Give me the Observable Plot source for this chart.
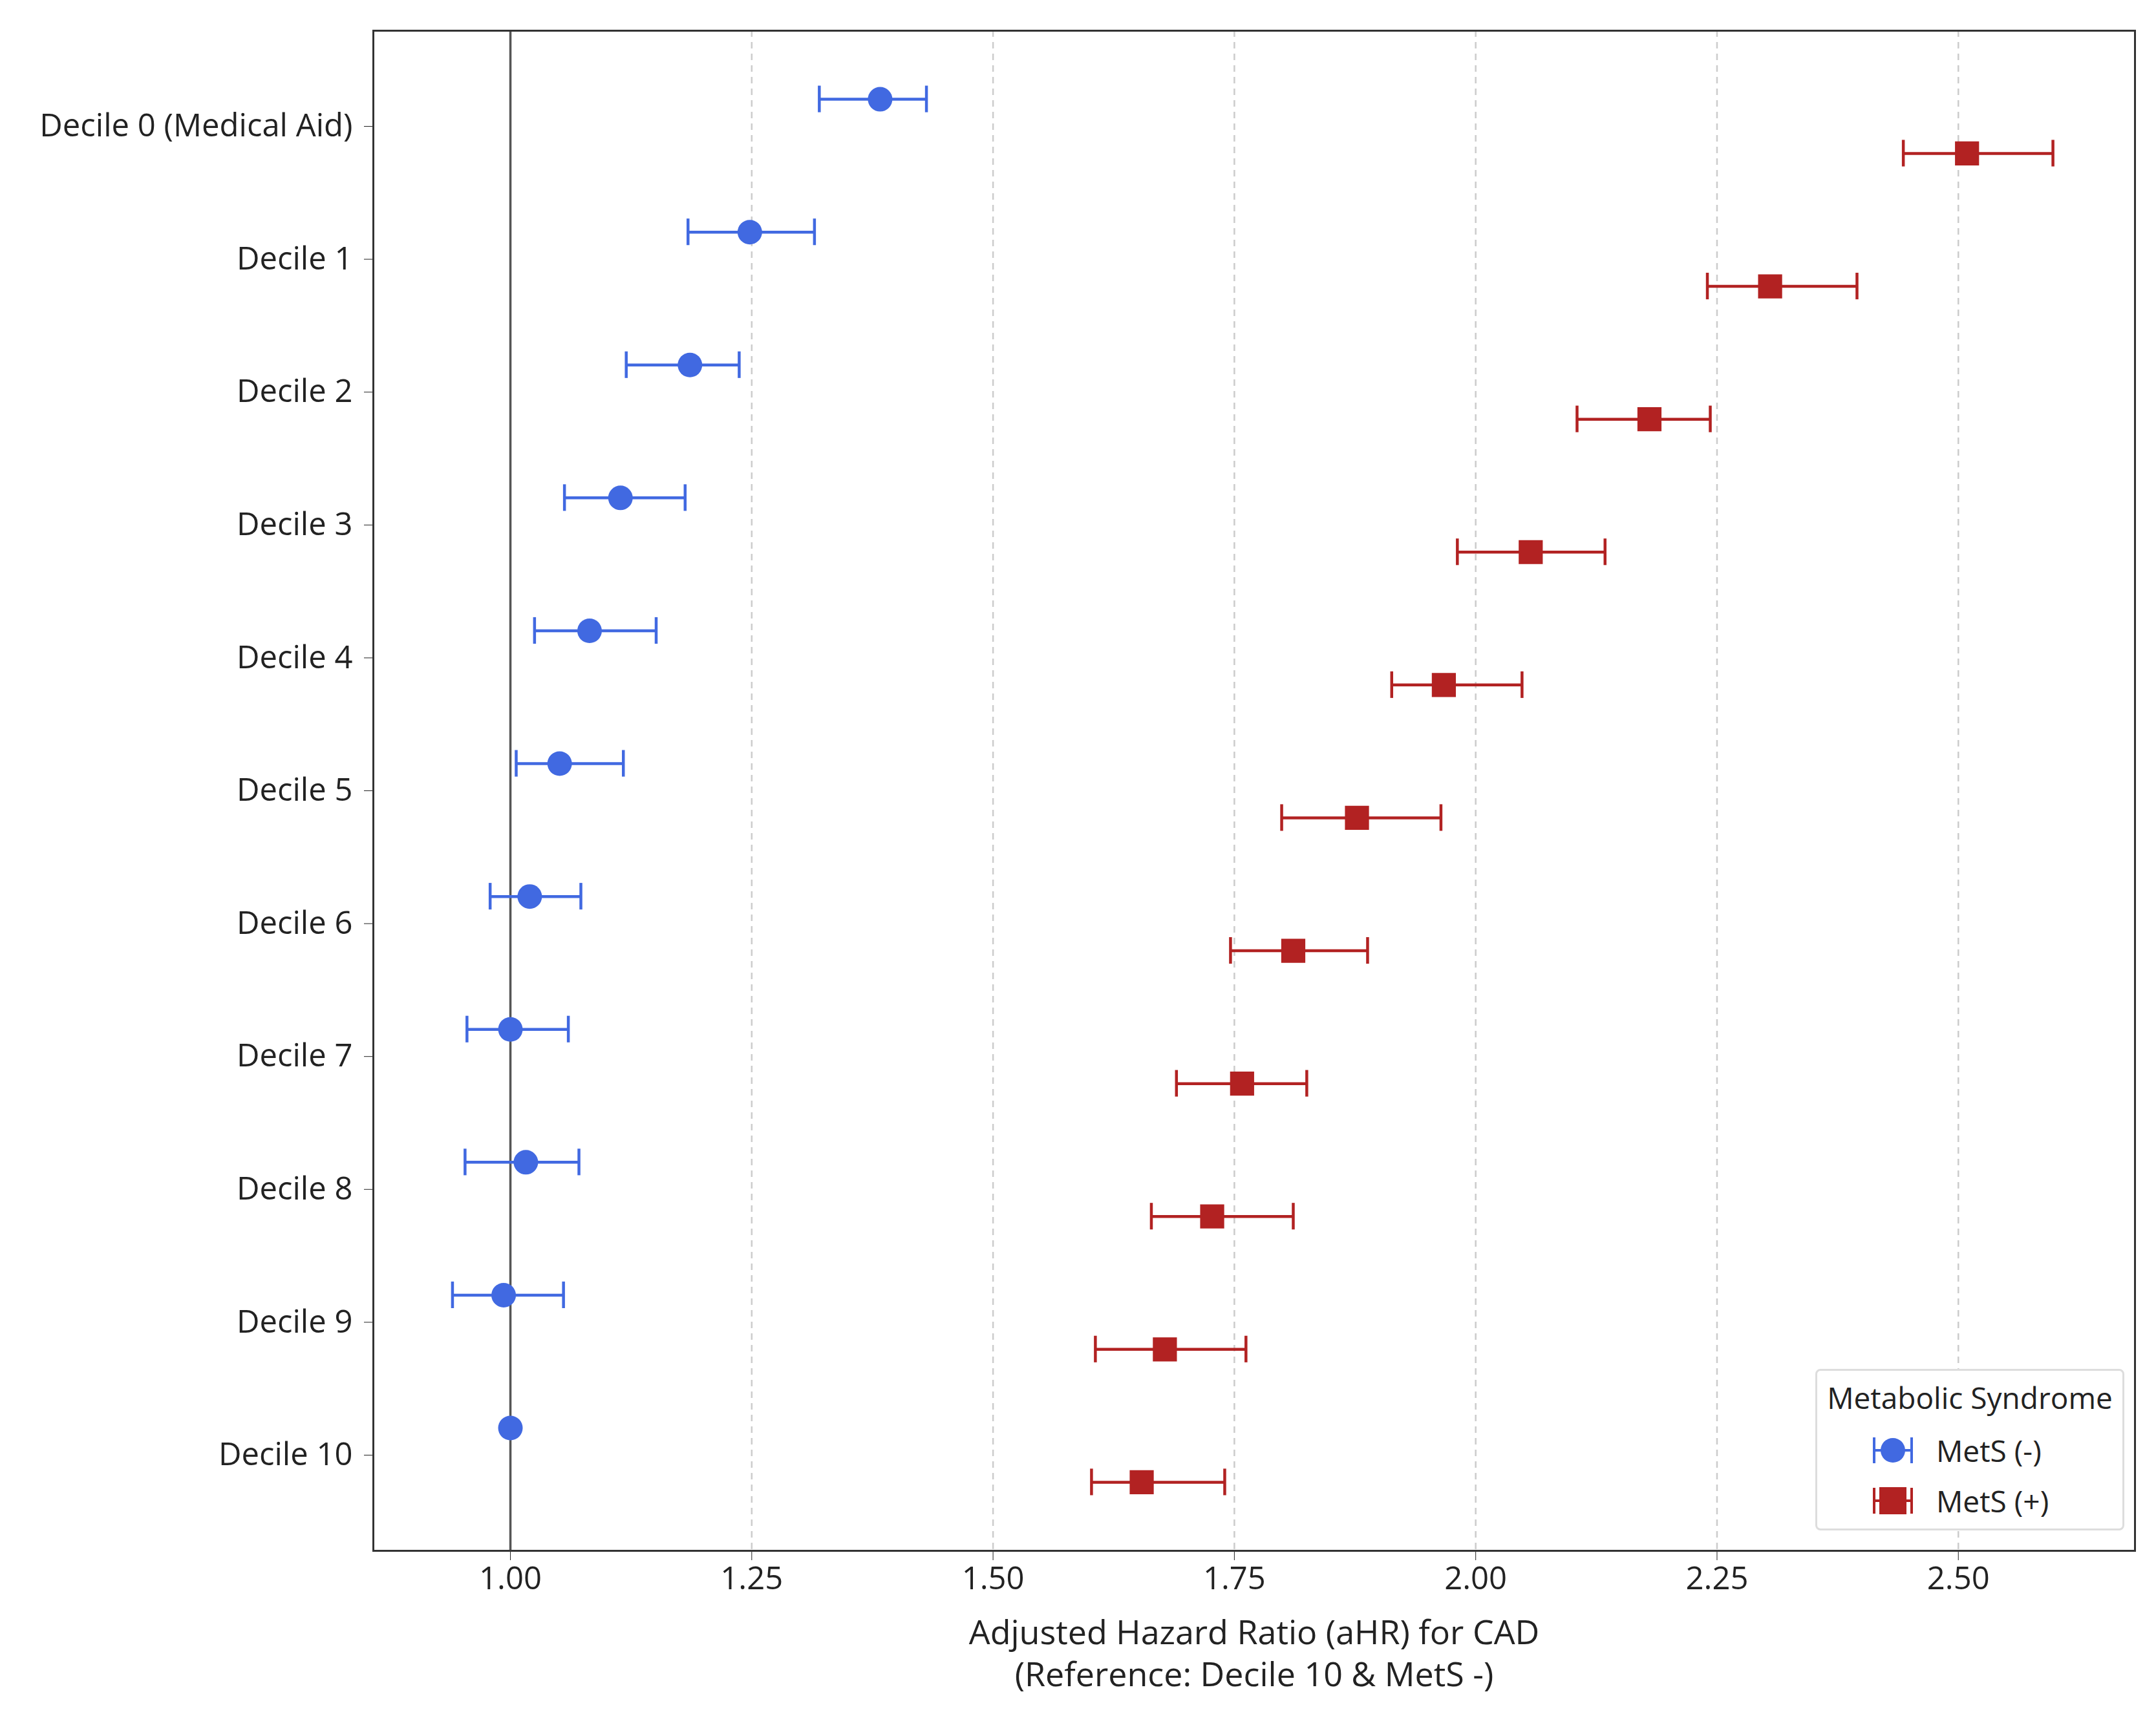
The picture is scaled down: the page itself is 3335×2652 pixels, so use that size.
<!DOCTYPE html>
<html><head><meta charset="utf-8">
<script src="https://cdn.jsdelivr.net/npm/d3@7"></script>
<script src="https://cdn.jsdelivr.net/npm/@observablehq/plot@0.6"></script>
<style>
body{margin:0;background:#fff;font-family:"Open Sans",Roboto,sans-serif;}
#wrap{position:relative;width:3335px;height:2652px;}
#legend{position:absolute;left:2808px;top:2118px;width:478px;height:250px;border:3px solid #ddd;border-radius:8px;background:#fff;box-sizing:border-box;font-size:46px;color:#222;}
#legend .t{position:absolute;left:0;width:100%;text-align:center;top:10px;}
#legend .r{position:absolute;left:82px;display:flex;align-items:center;}
#legend .r span{margin-left:32px;}
</style></head><body>
<div id="wrap"><div id="chart"></div>
<div id="legend"><div class="t">Metabolic Syndrome</div>
<div class="r" style="top:92px"><svg width="70" height="50"><line x1="6" x2="64" y1="25" y2="25" stroke="#4169E1" stroke-width="4"/><line x1="6" x2="6" y1="5" y2="45" stroke="#4169E1" stroke-width="4"/><line x1="64" x2="64" y1="5" y2="45" stroke="#4169E1" stroke-width="4"/><circle cx="35" cy="25" r="19" fill="#4169E1"/></svg><span>MetS (-)</span></div>
<div class="r" style="top:170px"><svg width="70" height="50"><line x1="6" x2="64" y1="25" y2="25" stroke="#B22222" stroke-width="4"/><line x1="6" x2="6" y1="5" y2="45" stroke="#B22222" stroke-width="4"/><line x1="64" x2="64" y1="5" y2="45" stroke="#B22222" stroke-width="4"/><rect x="14" y="4" width="42" height="42" fill="#B22222"/></svg><span>MetS (+)</span></div>
</div></div>
<script>
const categories = ["Decile 0 (Medical Aid)","Decile 1","Decile 2","Decile 3","Decile 4","Decile 5","Decile 6","Decile 7","Decile 8","Decile 9","Decile 10"];
const negHR = [1.383,1.248,1.186,1.114,1.082,1.051,1.020,1.000,1.016,0.993,1.000];
const negLo = [1.320,1.184,1.120,1.056,1.025,1.006,0.979,0.955,0.953,0.940,null];
const negHi = [1.431,1.315,1.237,1.181,1.151,1.117,1.073,1.060,1.071,1.055,null];
const posHR = [2.509,2.305,2.180,2.057,1.967,1.877,1.811,1.758,1.727,1.678,1.654];
const posLo = [2.443,2.240,2.105,1.981,1.913,1.799,1.746,1.690,1.664,1.606,1.602];
const posHi = [2.598,2.395,2.243,2.134,2.048,1.964,1.888,1.825,1.811,1.762,1.740];
const xTicks = [1.00,1.25,1.50,1.75,2.00,2.25,2.50];

const OFF = 0.204, CAP = 0.1;
const neg = categories.map((c,i)=>({i, y:i-OFF, hr:negHR[i], lo:negLo[i], hi:negHi[i]}));
const pos = categories.map((c,i)=>({i, y:i+OFF, hr:posHR[i], lo:posLo[i], hi:posHi[i]}));
const negCI = neg.filter(d=>d.lo!=null);
const BLUE="#4169E1", RED="#B22222";
function bars(data,color){
  return [
    Plot.ruleY(data,{y:"y",x1:"lo",x2:"hi",stroke:color,strokeWidth:4.5}),
    Plot.ruleX(data,{x:"lo",y1:d=>d.y-CAP,y2:d=>d.y+CAP,stroke:color,strokeWidth:4.5}),
    Plot.ruleX(data,{x:"hi",y1:d=>d.y-CAP,y2:d=>d.y+CAP,stroke:color,strokeWidth:4.5})
  ];
}
const chart = Plot.plot({
  width:3335, height:2652,
  marginLeft:577, marginRight:33, marginTop:47, marginBottom:253,
  style:{fontFamily:'"Open Sans",Roboto,sans-serif', fontSize:"49px", color:"#222", background:"#fff"},
  x:{domain:[0.858,2.683], ticks:xTicks, tickFormat:d3.format(".2f"), label:null, tickSize:15, tickPadding:10},
  y:{domain:[10.72,-0.72], ticks:d3.range(11), tickFormat:i=>categories[i], label:null, tickSize:14, tickPadding:18},
  marks:[
    Plot.ruleX(xTicks.filter(t=>t!==1),{stroke:"#ccc",strokeWidth:2.5,strokeDasharray:"10,8"}),
    Plot.ruleX([1],{stroke:"#555",strokeWidth:3.5}),
    ...bars(negCI,BLUE),
    ...bars(pos,RED),
    Plot.dot(neg,{x:"hr",y:"y",r:19,fill:BLUE}),
    Plot.dot(pos,{x:"hr",y:"y",r:21,symbol:"square",fill:RED}),
    Plot.frame({stroke:"#333",strokeWidth:3}),
    Plot.text(["Adjusted Hazard Ratio (aHR) for CAD\n(Reference: Decile 10 & MetS -)"],{frameAnchor:"bottom",lineAnchor:"top",dy:98,fontSize:52,lineHeight:1.25,fill:"#222"})
  ]
});
document.getElementById("chart").append(chart);
</script></body></html>
